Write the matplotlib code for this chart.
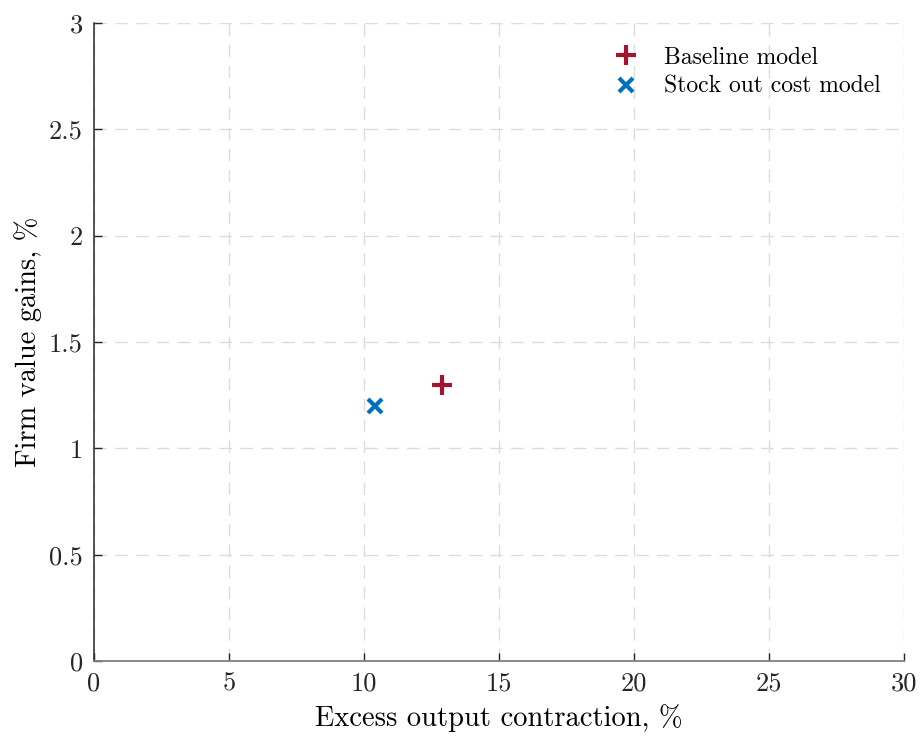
import matplotlib
matplotlib.use("Agg")
import matplotlib.pyplot as plt

plt.rcParams.update({
    "font.family": "serif",
    "font.serif": ["cmr10"],
    "mathtext.fontset": "cm",
    "axes.formatter.use_mathtext": True,
    "font.size": 18,
})

labels = ["Baseline model", "Stock out cost model"]
contraction = [12.9, 10.4]
gains = [1.3, 1.2]
markers = ["+", "x"]
colors = ["#A2142F", "#0072BD"]
xticks = [0, 5, 10, 15, 20, 25, 30]
yticks = [0, 0.5, 1, 1.5, 2, 2.5, 3]

fig = plt.figure(figsize=(9.21, 7.38), dpi=100)
ax = fig.add_axes([94 / 921, 1 - 661 / 738, (904 - 94) / 921, (661 - 23) / 738])

for lab, xv, yv, mk, c in zip(labels, contraction, gains, markers, colors):
    ax.plot([xv], [yv], ls="none", marker=mk, color=c, ms=14 if mk == "+" else 10,
            mew=3, label=lab)

ax.set_xlim(0, 30)
ax.set_ylim(0, 3)
ax.set_xticks(xticks)
ax.set_yticks(yticks)
ax.set_xticklabels([f"{v:g}" for v in xticks])
ax.set_yticklabels([f"{v:g}" for v in yticks])
ax.grid(True, color="#dcdcdc", ls=(0, (9, 6)), lw=1)
ax.set_axisbelow(True)
ax.tick_params(direction="in", length=6, width=1, pad=8, labelsize=19, colors="#262626")
for side in ("top", "right"):
    ax.spines[side].set_visible(False)
ax.spines["left"].set_color("#262626")
ax.spines["bottom"].set_color("#808080")
ax.spines["left"].set_linewidth(1.1)
ax.spines["bottom"].set_linewidth(1.3)

ax.set_xlabel("Excess output contraction, %", fontsize=20.5, labelpad=6)
ax.set_ylabel("Firm value gains, %", fontsize=20.5, labelpad=5)

ax.legend(loc="upper right", frameon=False, fontsize=17, handletextpad=1.0,
          borderaxespad=0.6, labelspacing=0.3, handlelength=1.2,
          bbox_to_anchor=(1.0, 1.0))

fig.savefig("out.png", dpi=100)
